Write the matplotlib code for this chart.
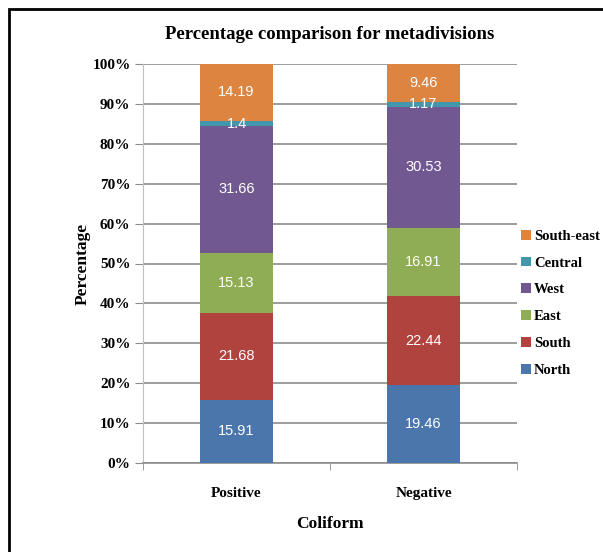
import matplotlib.pyplot as plt
from matplotlib.patches import Rectangle
from matplotlib.ticker import FuncFormatter

groups = ["Positive", "Negative"]
regions = ["North", "South", "East", "West", "Central", "South-east"]
north = [15.91, 19.46]
south = [21.68, 22.44]
east = [15.13, 16.91]
west = [31.66, 30.53]
central = [1.4, 1.17]
south_east = [14.19, 9.46]
colors = ["#4a76ab", "#b1433f", "#8fad54", "#715890", "#4297ad", "#dd8540"]

series = [north, south, east, west, central, south_east]

serif = "Liberation Serif"

fig = plt.figure(figsize=(6.03, 5.52), dpi=100)
ax = fig.add_axes([143 / 603, 1 - 463 / 552, 374 / 603, 399 / 552])

x = [0, 1]
bottom = [0, 0]
for name, vals, col in zip(regions, series, colors):
    ax.bar(x, vals, 0.39, bottom=bottom, color=col, label=name, zorder=3)
    for xi, v, bt in zip(x, vals, bottom):
        ax.text(xi, bt + v / 2, f"{v:g}", ha="center", va="center",
                color="white", fontsize=10.5, family="Liberation Sans", zorder=4)
    bottom = [bt + v for bt, v in zip(bottom, vals)]

ax.set_xlim(-0.5, 1.5)
ax.set_ylim(0, 100)
ax.set_yticks(range(0, 101, 10))
ax.yaxis.set_major_formatter(FuncFormatter(lambda v, p: f"{int(v)}%"))
ax.grid(axis="y", color="#8c8c8c", linewidth=1.2, zorder=0)
ax.set_xticks(x)
ax.set_xticklabels(groups)
ax.set_xticks([-0.5, 0.5, 1.5], minor=True)
ax.tick_params(axis="x", which="major", length=0, pad=17)
ax.tick_params(axis="x", which="minor", length=5, color="#8c8c8c")
ax.tick_params(axis="y", length=6, color="#8c8c8c", pad=3)
for lab in ax.get_xticklabels() + ax.get_yticklabels():
    lab.set_family(serif)
    lab.set_fontweight("bold")
    lab.set_fontsize(11)

for s in ["top", "right"]:
    ax.spines[s].set_visible(False)
ax.spines["left"].set_color("#c0c0c0")
ax.spines["bottom"].set_color("#8c8c8c")
ax.spines["bottom"].set_linewidth(1.2)

ax.set_title("Percentage comparison for metadivisions", family=serif,
             fontweight="bold", fontsize=13.5, pad=18)
ax.set_ylabel("Percentage", family=serif, fontweight="bold", fontsize=12.5, labelpad=1)
ax.set_xlabel("Coliform", family=serif, fontweight="bold", fontsize=12.5, labelpad=12)

handles, labels = ax.get_legend_handles_labels()
ax.legend(handles[::-1], labels[::-1], loc="center left", bbox_to_anchor=(1.012, 0.40),
          frameon=False, prop={"family": serif, "weight": "bold", "size": 10.5},
          handlelength=0.65, handleheight=0.65, handletextpad=0.2, labelspacing=0.95,
          borderaxespad=0, borderpad=0)

fig.patches.append(Rectangle((9 / 603, -0.1), 1.1, 1.1 - 9 / 552, transform=fig.transFigure,
                             fill=False, edgecolor="black", linewidth=2))

fig.savefig("out.png", dpi=100)
